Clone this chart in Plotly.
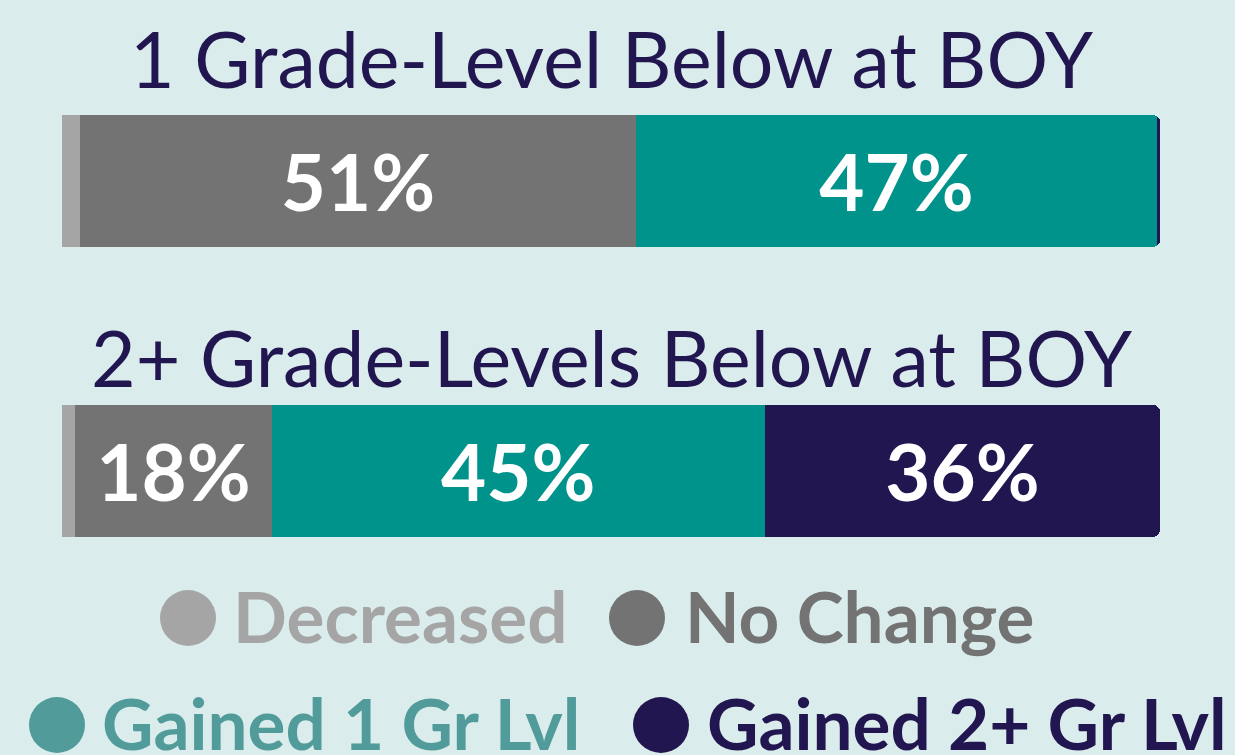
import plotly.graph_objects as go

groups = ["1 Grade-Level Below at BOY", "2+ Grade-Levels Below at BOY"]
series = ["Decreased", "No Change", "Gained 1 Gr Lvl", "Gained 2+ Gr Lvl"]
values = {
    "Decreased": [1.6, 1.2],
    "No Change": [50.7, 17.9],
    "Gained 1 Gr Lvl": [47.4, 44.9],
    "Gained 2+ Gr Lvl": [0.3, 36.0],
}
labels = {
    "Decreased": ["", ""],
    "No Change": ["51%", "18%"],
    "Gained 1 Gr Lvl": ["47%", "45%"],
    "Gained 2+ Gr Lvl": ["", "36%"],
}
colors = {
    "Decreased": "#a5a5a5",
    "No Change": "#737373",
    "Gained 1 Gr Lvl": "#00938b",
    "Gained 2+ Gr Lvl": "#221651",
}
legend_colors = {
    "Decreased": "#a5a5a5",
    "No Change": "#737373",
    "Gained 1 Gr Lvl": "#529b9b",
    "Gained 2+ Gr Lvl": "#221651",
}

BG = "#daeceb"
FONT = "Lato"
W, H = 1235, 755
L, R, T, B = 62, 75, 36, 139
PW, PH = W - L - R, H - T - B

def px(x):
    return (x - L) / PW

def py(y):
    return (H - B - y) / PH

fig = go.Figure()
for s in series:
    fig.add_trace(go.Bar(
        y=groups, x=values[s], orientation="h", name=s,
        marker=dict(color=colors[s], line=dict(width=0)),
        text=labels[s], textposition="inside", insidetextanchor="middle",
        textfont=dict(family=FONT, size=78, color="white", weight="bold"),
        width=0.455, showlegend=False, hoverinfo="skip",
    ))

annotations = []
title_shifts = [123, 114]
for g, ys in zip(groups, title_shifts):
    annotations.append(dict(
        x=0.5, xref="paper", y=g, yref="y", yshift=ys,
        text=g, showarrow=False, xanchor="center", yanchor="middle",
        font=dict(family=FONT, size=77, color="#221651"),
    ))

# legend layout (two centered rows): name, circle centre x, centre y, text left x
legend_items = [
    ("Decreased", 188, 618, 231),
    ("No Change", 637, 618, 683),
    ("Gained 1 Gr Lvl", 57, 725, 100),
    ("Gained 2+ Gr Lvl", 661, 725, 705),
]
shapes = []
r = 28
for name, cx, cy, tx in legend_items:
    shapes.append(dict(
        type="circle", xref="paper", yref="paper",
        x0=px(cx - r), x1=px(cx + r), y0=py(cy + r), y1=py(cy - r),
        fillcolor=legend_colors[name], line=dict(width=0),
    ))
    annotations.append(dict(
        x=px(tx), xref="paper", y=py(cy - 3), yref="paper",
        text=name, showarrow=False, xanchor="left", yanchor="middle",
        font=dict(family=FONT, size=71, color=legend_colors[name], weight="bold"),
    ))

fig.update_layout(
    width=W, height=H,
    barmode="stack", barcornerradius=7,
    paper_bgcolor=BG, plot_bgcolor=BG,
    margin=dict(l=L, r=R, t=T, b=B, autoexpand=False),
    xaxis=dict(range=[0, 100], visible=False, fixedrange=True),
    yaxis=dict(range=[1.5, -0.5], visible=False, fixedrange=True,
               categoryorder="array", categoryarray=groups),
    annotations=annotations, shapes=shapes,
    uniformtext=dict(mode="show", minsize=10),
    showlegend=False,
)

fig.write_html(
    "out.html",
    config={"displayModeBar": False},
    post_script="document.body.style.margin='0';document.body.style.overflow='hidden';",
)
